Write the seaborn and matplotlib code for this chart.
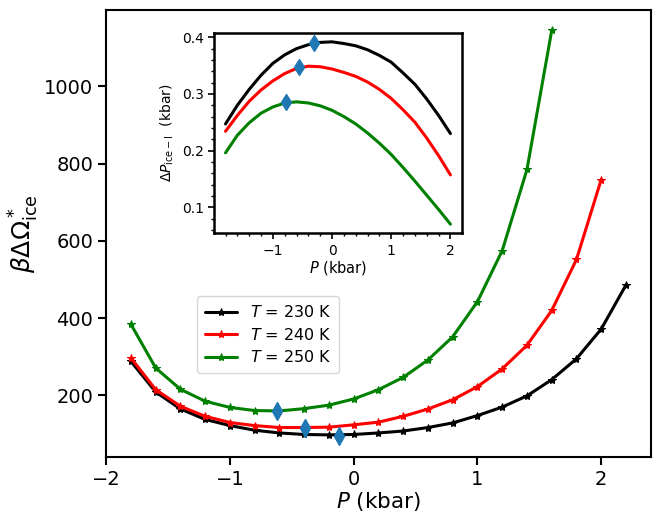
import matplotlib
matplotlib.use("Agg")
import matplotlib.pyplot as plt
import seaborn as sns
from matplotlib.ticker import MultipleLocator

# main panel: barrier vs pressure, one series per temperature
temps = ["230", "240", "250"]
colors = ["black", "red", "green"]
p_main = [-1.8, -1.6, -1.4, -1.2, -1.0, -0.8, -0.6, -0.4, -0.2, 0.0,
          0.2, 0.4, 0.6, 0.8, 1.0, 1.2, 1.4, 1.6, 1.8, 2.0, 2.2]
w_230 = [288, 209, 165, 138, 122, 110, 103, 99, 98, 99,
         103, 108, 117, 129, 148, 170, 199, 241, 295, 372, 486]
w_240 = [297, 215, 172, 146, 130, 122, 117, 117, 118, 124,
         131, 146, 165, 189, 223, 269, 330, 420, 552, 759]
w_250 = [384, 271, 216, 185, 169, 161, 160, 166, 175, 191,
         215, 247, 292, 352, 443, 575, 785, 1145]
min_p = [-0.12, -0.39, -0.62]
min_w = [94, 117, 159]

# inset: pressure gap
p_inset = [-1.8, -1.6, -1.4, -1.2, -1.0, -0.8, -0.6, -0.4, -0.2, 0.0,
           0.2, 0.4, 0.6, 0.8, 1.0, 1.2, 1.4, 1.6, 1.8, 2.0]
dp_230 = [0.247, 0.280, 0.308, 0.333, 0.354, 0.369, 0.380, 0.387, 0.391, 0.392,
          0.389, 0.385, 0.378, 0.368, 0.356, 0.337, 0.317, 0.291, 0.262, 0.230]
dp_240 = [0.234, 0.262, 0.287, 0.307, 0.323, 0.336, 0.345, 0.349, 0.348, 0.344,
          0.338, 0.331, 0.321, 0.308, 0.292, 0.272, 0.250, 0.222, 0.191, 0.157]
dp_250 = [0.196, 0.227, 0.249, 0.266, 0.277, 0.284, 0.286, 0.284, 0.279, 0.271,
          0.260, 0.247, 0.231, 0.213, 0.193, 0.170, 0.146, 0.121, 0.096, 0.070]
max_p = [-0.30, -0.56, -0.78]
max_dp = [0.390, 0.348, 0.285]

sns.set_style("ticks", {"axes.edgecolor": "black", "text.color": "black",
                        "xtick.color": "black", "ytick.color": "black",
                        "axes.labelcolor": "black"})
plt.rcParams["font.family"] = ["DejaVu Sans"]

fig = plt.figure(figsize=(6.64, 5.32), dpi=100)
ax = fig.add_axes([0.160, 0.1415, 0.820, 0.8395])

w_all = [w_230, w_240, w_250]
for t, c, w in zip(temps, colors, w_all):
    sns.lineplot(x=p_main[:len(w)], y=w, color=c, marker="*", markersize=6,
                 markeredgecolor=c, lw=2.2, label=rf"$T$ = {t} K", ax=ax)
ax.plot(min_p, min_w, ls="none", marker="d", ms=9, color="C0", zorder=5)

ax.xaxis.set_major_locator(MultipleLocator(1))
ax.set_xlabel(r"$P$ (kbar)", fontsize=15.5, labelpad=1)
ax.set_ylabel(r"$\beta\Delta\Omega^*_{\rm ice}$", fontsize=18, labelpad=2)
ax.tick_params(labelsize=14, length=6, width=1.5)
for s in ax.spines.values():
    s.set_linewidth(1.5)
ax.legend(loc="lower left", bbox_to_anchor=(0.1665, 0.187), borderaxespad=0,
          fontsize=11.5, handlelength=2, borderpad=0.5, labelspacing=0.4)

ins = fig.add_axes([0.3227, 0.5615, 0.3726, 0.377])
for c, dp in zip(colors, [dp_230, dp_240, dp_250]):
    sns.lineplot(x=p_inset, y=dp, color=c, lw=2.2, ax=ins)
ins.plot(max_p, max_dp, ls="none", marker="d", ms=8, color="C0", zorder=5)
ins.xaxis.set_major_locator(MultipleLocator(1))
ins.xaxis.set_minor_locator(MultipleLocator(0.2))
ins.yaxis.set_minor_locator(MultipleLocator(0.02))
ins.set_yticks([0.1, 0.2, 0.3, 0.4])
ins.tick_params(labelsize=10, length=4, width=1.2)
ins.tick_params(which="minor", length=2.5, width=1)
ins.set_xlabel(r"$P$ (kbar)", fontsize=10.5, labelpad=1)
ins.set_ylabel(r"$\Delta P_{\rm ice-I}$  (kbar)", fontsize=10)
for s in ins.spines.values():
    s.set_linewidth(1.8)

fig.savefig("out.png", dpi=100)
